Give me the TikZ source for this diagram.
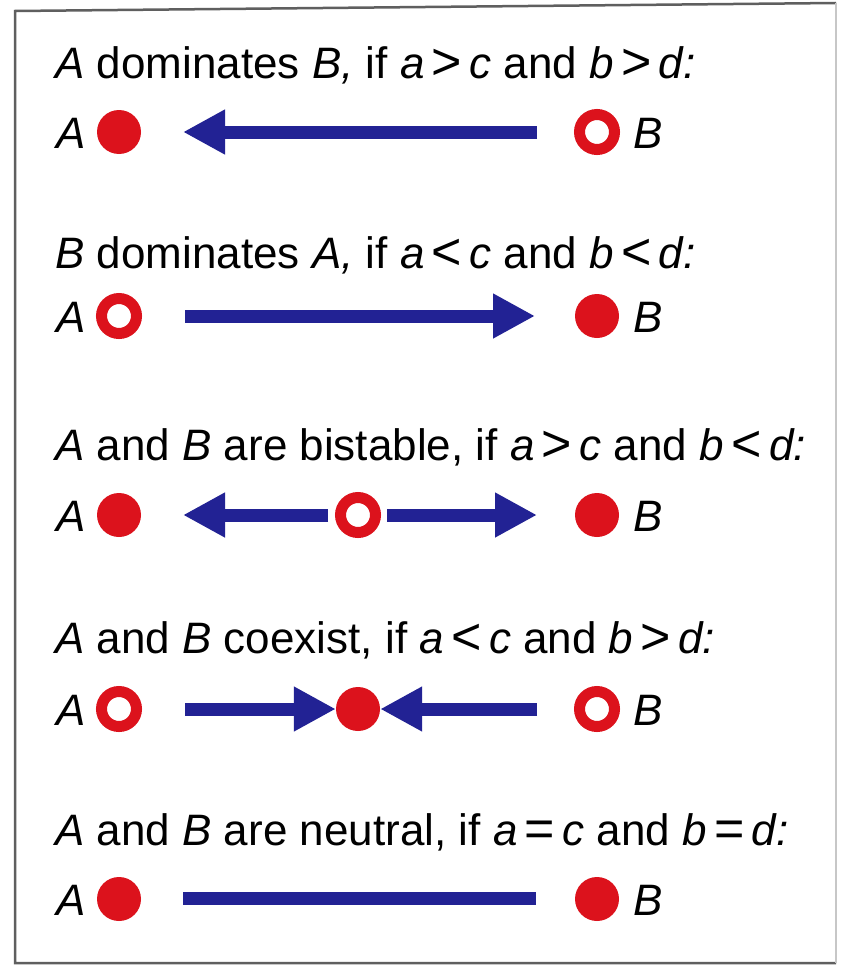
\documentclass[tikz,border=0pt]{standalone}
\usepackage{fontspec}
\setmainfont{Liberation Sans}
\usetikzlibrary{arrows.meta}
\definecolor{dotred}{RGB}{220,18,28}
\definecolor{arrblue}{RGB}{34,34,148}
\definecolor{framegray}{RGB}{95,95,95}
\newcommand{\relsym}[1]{{\fontsize{52}{52}\selectfont\raisebox{-1pt}{#1}}}
\tikzset{
  fdot/.style={circle, fill=dotred, minimum size=44pt, inner sep=0pt},
  hdot/.style={circle, draw=dotred, line width=11pt, minimum size=35pt, inner sep=0pt, fill=white},
  title/.style={anchor=base west, inner sep=0pt, font=\fontsize{44}{50}\selectfont},
  lab/.style={anchor=base west, inner sep=0pt, font=\fontsize{44}{50}\selectfont\itshape},
  arr/.style={draw=arrblue, line width=13pt, -{Triangle[length=42pt,width=42pt]}},
  bar/.style={draw=arrblue, line width=13pt}
}
\begin{document}
\begin{tikzpicture}[x=1pt,y=-1pt]
\useasboundingbox (0,0) rectangle (841,966);
\fill[white] (0,0) rectangle (841,966);
% frame
\coordinate (f1) at (15,11);
\coordinate (f2) at (836,3);
\coordinate (f3) at (836,963);
\coordinate (f4) at (15,963);
\draw[framegray, line width=2.5pt] (f2) -- (f1) -- (f4) -- (f3);
\draw[framegray!35, line width=1.5pt] (f2) -- (f3);

% Row 1
\node[title] (t1) at (55,78) {\textit{A} dominates \textit{B,} if \textit{a}\,\relsym{>}\,\textit{c} and \textit{b}\,\relsym{>}\,\textit{d:}};
\node[lab] (la1) at (56,148) {A};
\node[fdot] (a1) at (119,132) {};
\node[hdot] (b1) at (597,132) {};
\node[lab] (lb1) at (633,148) {B};
\coordinate (s1) at (537,132);
\coordinate (e1) at (183,132);
\draw[arr] (s1) -- (e1);

% Row 2
\node[title] (t2) at (55,268) {\textit{B} dominates \textit{A,} if \textit{a}\,\relsym{<}\,\textit{c} and \textit{b}\,\relsym{<}\,\textit{d:}};
\node[lab] (la2) at (56,332) {A};
\node[hdot] (a2) at (119,316) {};
\node[fdot] (b2) at (597,316) {};
\node[lab] (lb2) at (633,332) {B};
\coordinate (s2) at (185,316);
\coordinate (e2) at (535,316);
\draw[arr] (s2) -- (e2);

% Row 3
\node[title] (t3) at (55,460) {\textit{A} and \textit{B} are bistable, if \textit{a}\,\relsym{>}\,\textit{c} and \textit{b}\,\relsym{<}\,\textit{d:}};
\node[lab] (la3) at (56,531) {A};
\node[fdot] (a3) at (119,515) {};
\node[hdot] (m3) at (358,515) {};
\node[fdot] (b3) at (597,515) {};
\node[lab] (lb3) at (633,531) {B};
\coordinate (s3l) at (328,515);
\coordinate (e3l) at (183,515);
\coordinate (s3r) at (387,515);
\coordinate (e3r) at (537,515);
\draw[arr] (s3l) -- (e3l);
\draw[arr] (s3r) -- (e3r);

% Row 4
\node[title] (t4) at (55,653) {\textit{A} and \textit{B} coexist, if \textit{a}\,\relsym{<}\,\textit{c} and \textit{b}\,\relsym{>}\,\textit{d:}};
\node[lab] (la4) at (56,725) {A};
\node[hdot] (a4) at (119,709) {};
\node[fdot] (m4) at (358,709) {};
\node[hdot] (b4) at (597,709) {};
\node[lab] (lb4) at (633,725) {B};
\coordinate (s4l) at (185,709);
\coordinate (s4r) at (537,709);
\draw[arr] (s4l) -- (m4.west);
\draw[arr] (s4r) -- (m4.east);

% Row 5
\node[title] (t5) at (55,845) {\textit{A} and \textit{B} are neutral, if \textit{a}\,\relsym{=}\,\textit{c} and \textit{b}\,\relsym{=}\,\textit{d:}};
\node[lab] (la5) at (56,915) {A};
\node[fdot] (a5) at (119,899) {};
\node[fdot] (b5) at (597,899) {};
\node[lab] (lb5) at (633,915) {B};
\coordinate (s5) at (183,898);
\coordinate (e5) at (536,898);
\draw[bar] (s5) -- (e5);
\end{tikzpicture}
\end{document}
